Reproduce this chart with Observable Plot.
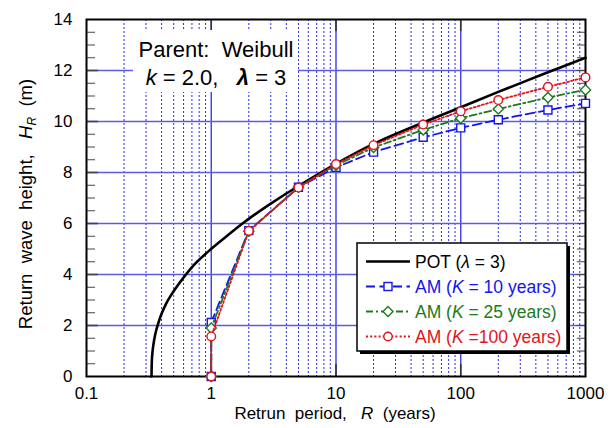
<!DOCTYPE html>
<html>
<head>
<meta charset="utf-8">
<script src="https://cdn.jsdelivr.net/npm/d3@7"></script>
<script src="https://cdn.jsdelivr.net/npm/@observablehq/plot@0.6"></script>
<style>
  html, body { margin: 0; padding: 0; background: #fff; }
  #chart { position: relative; width: 615px; height: 428px; }
  svg text { font-family: "Liberation Sans", Arial, sans-serif; }
</style>
</head>
<body>
<div id="chart"></div>
<script>
// POT return-level curve (Weibull parent, k = 2.0, lambda = 3)
const potPeriod = [0.332, 0.335, 0.342, 0.355, 0.378, 0.399, 0.434, 0.471, 0.517, 0.585, 0.725, 0.986, 1.342, 1.77, 2.06, 3, 5, 10, 20, 50, 100, 200, 500, 1000];
const potHeight = [0, 0.73, 1.17, 1.64, 2.12, 2.45, 2.85, 3.15, 3.45, 3.81, 4.37, 4.98, 5.52, 5.99, 6.23, 6.78, 7.47, 8.34, 9.12, 9.96, 10.56, 11.16, 11.93, 12.5];

// Annual-maximum estimates for three record lengths K
const amPeriod = [1, 1, 2, 5, 10, 20, 50, 100, 200, 500, 1000];
const amK10  = [0, 2.12, 5.72, 7.42, 8.2, 8.8, 9.38, 9.75, 10.07, 10.45, 10.71];
const amK25  = [0, 1.9, 5.7, 7.42, 8.28, 8.98, 9.67, 10.13, 10.49, 10.94, 11.24];
const amK100 = [0, 1.57, 5.71, 7.41, 8.33, 9.07, 9.88, 10.4, 10.84, 11.36, 11.73];

// Axis ticks and labels
const xTickValues = [0.1, 1, 10, 100, 1000];
const xTickLabels = ["0.1", "1", "10", "100", "1000"];
const xMajorGrid = [1, 10, 100];
const xMinorGrid = [0.2, 0.3, 0.4, 0.5, 0.6, 0.7, 0.8, 0.9, 2, 3, 4, 5, 6, 7, 8, 9, 20, 30, 40, 50, 60, 70, 80, 90, 200, 300, 400, 500, 600, 700, 800, 900];
const yTickValues = [0, 2, 4, 6, 8, 10, 12, 14];
const yGrid = [2, 4, 6, 8, 10, 12];
const yMinorTicks = d3.range(0.5, 14, 0.5);

const W = 615, H = 428, mL = 86, mR = 30, mT = 19, mB = 52;
const innerW = W - mL - mR, innerH = H - mT - mB;
const FONT = '"Liberation Sans", Arial, sans-serif';

const pot = potPeriod.map((R, i) => ({R, H: potHeight[i]}));
const series = [
  {name: "K10",  values: amK10,  color: "#1414ee", dash: "9,4.5",   symbol: "square",   r: 4.5},
  {name: "K25",  values: amK25,  color: "#1d7a1d", dash: "7,3,2,3", symbol: "diamond2", r: 4.6},
  {name: "K100", values: amK100, color: "#e0141c", dash: "2,2.2",   symbol: "circle",   r: 4.3}
];
const seriesRows = s => amPeriod.map((R, i) => ({R, H: s.values[i]}));
const xLabelOf = new Map(xTickValues.map((v, i) => [v, xTickLabels[i]]));

const seriesMarks = series.flatMap(s => [
  Plot.line(seriesRows(s), {x: "R", y: "H", stroke: s.color, strokeWidth: 1.8, strokeDasharray: s.dash}),
  Plot.dot(seriesRows(s), {x: "R", y: "H", symbol: s.symbol, r: s.r, stroke: s.color, fill: "white", strokeWidth: 1.4})
]);

const plot = Plot.plot({
  width: W, height: H,
  marginLeft: mL, marginRight: mR, marginTop: mT, marginBottom: mB,
  style: {fontFamily: FONT, fontSize: "17px", background: "#fff", color: "#000"},
  x: {type: "log", domain: [0.1, 1000], label: null},
  y: {domain: [0, 14], label: null},
  marks: [
    // grid
    Plot.ruleX(xMinorGrid, {stroke: "#2a2af0", strokeWidth: 1, strokeDasharray: "2,2"}),
    Plot.ruleX(xMajorGrid, {stroke: "#3d3de6", strokeWidth: 1.4}),
    Plot.ruleY(yGrid, {stroke: "#5c5ce2", strokeWidth: 1.6}),
    // inward tick marks
    Plot.ruleY(yMinorTicks, {stroke: "#444", strokeWidth: 1, insetRight: innerW - 9}),
    Plot.ruleY(yMinorTicks, {stroke: "#444", strokeWidth: 1, insetLeft: innerW - 8}),
    Plot.ruleY(yGrid, {stroke: "#444", strokeWidth: 1.6, insetRight: innerW - 12}),
    Plot.ruleX(xMajorGrid, {stroke: "#333", strokeWidth: 1.6, insetBottom: innerH - 12}),
    Plot.ruleX(xMajorGrid, {stroke: "#333", strokeWidth: 1.6, insetTop: innerH - 12}),
    // POT curve
    Plot.line(pot, {x: "R", y: "H", stroke: "black", strokeWidth: 2.6, curve: "catmull-rom"}),
    Plot.frame({stroke: "black", strokeWidth: 2}),
    // AM series
    ...seriesMarks,
    Plot.axisX({ticks: xTickValues, tickFormat: d => xLabelOf.get(d), tickSize: 0, tickPadding: 10, fontSize: 17, label: null}),
    Plot.axisY({ticks: yTickValues, tickSize: 0, tickPadding: 14, fontSize: 17, label: null})
  ]
});

document.getElementById("chart").appendChild(plot);
const svg = d3.select(plot);

// axis titles
const xt = svg.append("text")
  .attr("x", 335).attr("y", 419).attr("text-anchor", "middle")
  .attr("font-size", 17).attr("xml:space", "preserve").style("white-space", "pre");
xt.append("tspan").text("Retrun  period,   ");
xt.append("tspan").attr("font-style", "italic").text("R");
xt.append("tspan").text("  (years)");

const yt = svg.append("text")
  .attr("transform", "translate(32,204) rotate(-90)").attr("text-anchor", "middle")
  .attr("font-size", 18.5).attr("xml:space", "preserve").style("white-space", "pre");
yt.append("tspan").text("Return  wave  height,   ");
yt.append("tspan").attr("font-style", "italic").text("H");
yt.append("tspan").attr("font-style", "italic").attr("font-size", 12).attr("dy", 4).text("R");
yt.append("tspan").attr("dy", -4).text("  (m)");

// parent distribution note
const note = svg.append("g");
note.append("rect").attr("x", 133).attr("y", 30).attr("width", 165).attr("height", 62).attr("fill", "#fff");
note.append("text").attr("x", 216).attr("y", 57).attr("text-anchor", "middle")
  .attr("font-size", 22).attr("xml:space", "preserve").style("white-space", "pre")
  .text("Parent:  Weibull");
const n2 = note.append("text").attr("x", 216).attr("y", 85).attr("text-anchor", "middle")
  .attr("font-size", 22).attr("xml:space", "preserve").style("white-space", "pre");
n2.append("tspan").attr("font-style", "italic").text("k");
n2.append("tspan").text(" = 2.0,   ");
n2.append("tspan").attr("font-style", "italic").attr("font-weight", "bold").text("λ");
n2.append("tspan").text(" = 3");

// legend
const lg = svg.append("g");
lg.append("rect").attr("x", 360).attr("y", 246).attr("width", 210).attr("height", 108).attr("fill", "#000");
lg.append("rect").attr("x", 357).attr("y", 243).attr("width", 210).attr("height", 108)
  .attr("fill", "#fff").attr("stroke", "#000").attr("stroke-width", 1.5);

const rowY = [261.5, 286.5, 311.5, 336.5];
const legendItems = [
  {color: "#000", dash: null, width: 2.4, symbol: null, parts: [["POT (", ""], ["λ", "italic"], [" = 3)", ""]]},
  {color: series[0].color, dash: series[0].dash, width: 1.8, symbol: "square", parts: [["AM (", ""], ["K", "italic"], [" = 10 years)", ""]]},
  {color: series[1].color, dash: series[1].dash, width: 1.8, symbol: "diamond", parts: [["AM (", ""], ["K", "italic"], [" = 25 years)", ""]]},
  {color: series[2].color, dash: series[2].dash, width: 1.8, symbol: "circle", parts: [["AM (", ""], ["K", "italic"], [" =100 years)", ""]]}
];
legendItems.forEach((it, i) => {
  const cy = rowY[i];
  lg.append("line").attr("x1", 366).attr("x2", 410).attr("y1", cy).attr("y2", cy)
    .attr("stroke", it.color).attr("stroke-width", it.width)
    .attr("stroke-dasharray", it.dash);
  if (it.symbol === "square") {
    lg.append("rect").attr("x", 384).attr("y", cy - 4).attr("width", 8).attr("height", 8)
      .attr("fill", "#fff").attr("stroke", it.color).attr("stroke-width", 1.4);
  } else if (it.symbol === "diamond") {
    lg.append("path").attr("d", `M388,${cy - 5}L393,${cy}L388,${cy + 5}L383,${cy}Z`)
      .attr("fill", "#fff").attr("stroke", it.color).attr("stroke-width", 1.4);
  } else if (it.symbol === "circle") {
    lg.append("circle").attr("cx", 388).attr("cy", cy).attr("r", 4.2)
      .attr("fill", "#fff").attr("stroke", it.color).attr("stroke-width", 1.4);
  }
  const t = lg.append("text").attr("x", 415).attr("y", cy + 6.5).attr("font-size", 17.5)
    .attr("text-anchor", "start")
    .attr("fill", it.color).attr("xml:space", "preserve").style("white-space", "pre");
  it.parts.forEach(([s, st]) => {
    const ts = t.append("tspan").text(s);
    if (st) ts.attr("font-style", st);
  });
});
</script>
</body>
</html>
